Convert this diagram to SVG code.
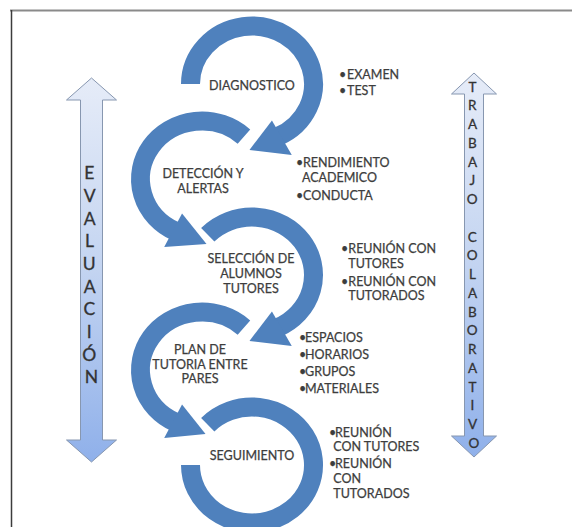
<svg xmlns="http://www.w3.org/2000/svg" width="572" height="527" viewBox="0 0 572 527">
  <defs>
    <linearGradient id="sideFill" x1="0" y1="0" x2="0" y2="1">
      <stop offset="0" stop-color="#e6ecf8"/>
      <stop offset="0.5" stop-color="#c3d4f1"/>
      <stop offset="1" stop-color="#8fb0ea"/>
    </linearGradient>
    <style>
      .band { fill: none; stroke: #4f81bd; stroke-width: 19; stroke-linecap: butt; }
      .head { fill: #4f81bd; stroke: none; }
      .step { font-family: Lato, "Liberation Sans", sans-serif; font-size: 12.5px; fill: #3d3d3d; stroke: #3d3d3d; stroke-width: 0.25; text-anchor: middle; }
      .list { font-family: Lato, "Liberation Sans", sans-serif; font-size: 12.5px; fill: #3d3d3d; stroke: #3d3d3d; stroke-width: 0.25; }
      .side { fill: url(#sideFill); stroke: #8797b0; stroke-width: 1; }
      .vert { font-family: Lato, "Liberation Sans", sans-serif; fill: #333333; stroke: #333333; stroke-width: 0.3; text-anchor: middle; }
    </style>
  </defs>

  <rect width="572" height="527" fill="#ffffff"/>

  <!-- outer frame (runs past the right and bottom edges) -->
  <line x1="10" y1="10.5" x2="572" y2="10.5" stroke="#8a8a8a" stroke-width="2"/>
  <line x1="11.5" y1="10" x2="11.5" y2="527" stroke="#3c3c3c" stroke-width="1.5"/>

  <!-- side arrow: EVALUACIÓN -->
  <g id="evaluacion">
    <polygon class="side" points="91.5,78 116.5,100 102.5,100 102.5,440 116.5,440 91.5,462 66.5,440 80.5,440 80.5,100 66.5,100"/>
    <text class="vert" font-size="17.5">
      <tspan x="91.5" y="179.3">E</tspan>
      <tspan x="91.5" y="202">V</tspan>
      <tspan x="91.5" y="224.6">A</tspan>
      <tspan x="91.5" y="247.3">L</tspan>
      <tspan x="91.5" y="270">U</tspan>
      <tspan x="91.5" y="292.6">A</tspan>
      <tspan x="91.5" y="315.3">C</tspan>
      <tspan x="91.5" y="338">I</tspan>
      <tspan x="91.5" y="360.7">Ó</tspan>
      <tspan x="91.5" y="383.3">N</tspan>
    </text>
  </g>

  <!-- side arrow: TRABAJO COLABORATIVO -->
  <g id="trabajo-colaborativo">
    <polygon class="side" points="474,73 496.5,94 483.5,94 483.5,436 496.5,436 474,457 451.5,436 464.5,436 464.5,94 451.5,94"/>
    <text class="vert" font-size="13.5">
      <tspan x="474" y="91.7">T</tspan>
      <tspan x="474" y="110.4">R</tspan>
      <tspan x="474" y="129.2">A</tspan>
      <tspan x="474" y="147.9">B</tspan>
      <tspan x="474" y="166.7">A</tspan>
      <tspan x="474" y="185.4">J</tspan>
      <tspan x="474" y="204.1">O</tspan>
      <tspan x="474" y="241.6">C</tspan>
      <tspan x="474" y="260.4">O</tspan>
      <tspan x="474" y="279.1">L</tspan>
      <tspan x="474" y="297.8">A</tspan>
      <tspan x="474" y="316.6">B</tspan>
      <tspan x="474" y="335.3">O</tspan>
      <tspan x="474" y="354.1">R</tspan>
      <tspan x="474" y="372.8">A</tspan>
      <tspan x="474" y="391.5">T</tspan>
      <tspan x="474" y="410.3">I</tspan>
      <tspan x="474" y="429">V</tspan>
      <tspan x="474" y="447.8">O</tspan>
    </text>
  </g>

  <!-- circular arrows that carry each step into the next -->
  <g id="connectors">
    <path class="band" d="M190.5,84 A61.5,58 0 1 1 277.99,136.57"/>
    <polygon class="head" points="271.95,120.43 291.79,154.99 249.47,149.91"/>

    <path class="band" d="M243.94,136.58 A61.5,58 0 1 0 176.01,231.57"/>
    <polygon class="head" points="182.05,213.43 164.21,246.99 206.53,243.91"/>

    <path class="band" d="M207.76,234.71 A61.5,58 0 1 1 277.99,327.57"/>
    <polygon class="head" points="271.95,311.43 291.79,345.99 249.47,340.91"/>

    <path class="band" d="M243.94,327.58 A61.5,58 0 1 0 176.01,422.57"/>
    <polygon class="head" points="182.05,404.43 164.21,437.99 205.53,433.91"/>

    <path class="band" d="M207.76,424.71 A61.5,58 0 1 1 190.5,465"/>
  </g>

  <g id="diagnostico">
    <text class="step" x="252" y="89.5">DIAGNOSTICO</text>
  </g>
  <g id="deteccion">
    <text class="step" x="203" y="177.5">DETECCIÓN Y</text>
    <text class="step" x="203" y="192.5">ALERTAS</text>
  </g>
  <g id="seleccion">
    <text class="step" x="251" y="262.5">SELECCIÓN DE</text>
    <text class="step" x="251" y="277.5">ALUMNOS</text>
    <text class="step" x="251" y="292.5">TUTORES</text>
  </g>
  <g id="plan">
    <text class="step" x="200" y="353.5">PLAN DE</text>
    <text class="step" x="200" y="368.5">TUTORIA ENTRE</text>
    <text class="step" x="200" y="382.5">PARES</text>
  </g>
  <g id="seguimiento">
    <text class="step" x="252" y="459.5">SEGUIMIENTO</text>
  </g>

  <!-- bullet lists beside each step -->
  <g id="lista-diagnostico" class="list">
    <text x="339" y="78.5">•</text><text x="347" y="78.5">EXAMEN</text>
    <text x="339" y="94.5">•</text><text x="347" y="94.5">TEST</text>
  </g>
  <g id="lista-deteccion" class="list">
    <text x="296" y="166.5">•</text><text x="303" y="166.5">RENDIMIENTO</text>
    <text x="302" y="181.5">ACADEMICO</text>
    <text x="296" y="199.5">•</text><text x="303" y="199.5">CONDUCTA</text>
  </g>
  <g id="lista-seleccion" class="list">
    <text x="341" y="252.8">•</text><text x="348.3" y="252.8">REUNIÓN CON</text>
    <text x="348.3" y="267.5">TUTORES</text>
    <text x="341" y="286">•</text><text x="348.3" y="286">REUNIÓN CON</text>
    <text x="348.3" y="299.5">TUTORADOS</text>
  </g>
  <g id="lista-plan" class="list">
    <text x="299" y="341.5">•</text><text x="305" y="341.5">ESPACIOS</text>
    <text x="299" y="358.5">•</text><text x="305" y="358.5">HORARIOS</text>
    <text x="299" y="375.5">•</text><text x="305" y="375.5">GRUPOS</text>
    <text x="299" y="392.5">•</text><text x="305" y="392.5">MATERIALES</text>
  </g>
  <g id="lista-seguimiento" class="list">
    <text x="329" y="437.2">•</text><text x="335" y="437.2">REUNIÓN</text>
    <text x="333.3" y="451.2">CON TUTORES</text>
    <text x="329" y="467.8">•</text><text x="335" y="467.8">REUNIÓN</text>
    <text x="333.3" y="482.8">CON</text>
    <text x="333.3" y="497.8">TUTORADOS</text>
  </g>
</svg>
